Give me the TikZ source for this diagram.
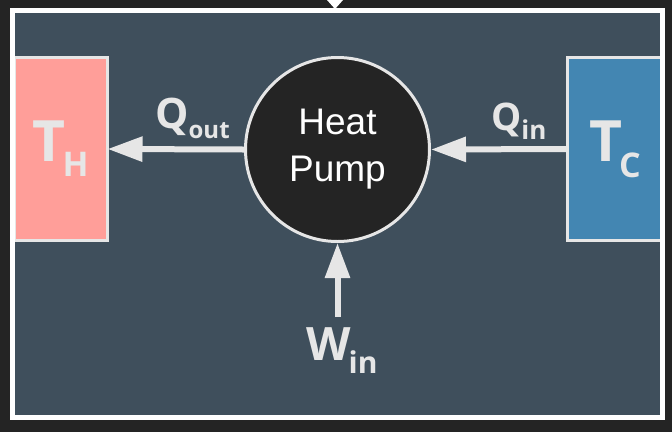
\documentclass[tikz,border=0pt]{standalone}
\usepackage{fontspec}
\setmainfont{Open Sans}
\newfontfamily\pumpfont{Liberation Sans}
\usepackage{xcolor}
\usetikzlibrary{arrows.meta, positioning}
\definecolor{framedark}{RGB}{36,36,36}
\definecolor{slate}{RGB}{63,79,92}
\definecolor{chalk}{RGB}{230,230,230}
\definecolor{hotred}{RGB}{255,158,153}
\definecolor{coldblue}{RGB}{67,134,178}
\newcommand{\lab}[6]{\fontsize{#1pt}{#1pt}\selectfont#2\kern#3pt\raisebox{-#4pt}{\fontsize{#5pt}{#5pt}\selectfont#6}}
\tikzset{
  reservoir/.style={rectangle, draw=chalk, line width=3pt, minimum height=183pt,
    text=chalk, font=\bfseries, inner sep=0pt, outer sep=0pt},
  hotbox/.style={reservoir, fill=hotred, minimum width=93.5pt},
  coldbox/.style={reservoir, fill=coldblue, minimum width=94.5pt},
  pump/.style={circle, draw=chalk, line width=3pt, fill=framedark, minimum size=184pt,
    inner sep=0pt, text=white, align=center,
    font=\pumpfont\fontsize{37pt}{47pt}\selectfont},
  flow/.style={-{Triangle[length=35pt, width=24pt]}, line width=6pt, color=chalk},
  flowlabel/.style={text=chalk, font=\bfseries, inner sep=0pt, anchor=base west},
}
\begin{document}
\begin{tikzpicture}[x=1pt, y=-1pt]
  \useasboundingbox (0,0) rectangle (672,432);
  % Background and frame
  \fill[framedark] (0,0) rectangle (672,432);
  \fill[slate] (12.5,10.5) rectangle (662.5,417.5);

  % Reservoirs and the pump
  \node[hotbox] (hot) at (60.75,149) {\lab{57}{T}{-3}{15}{34}{H}};
  \node[coldbox] (cold) at (615,149) {\lab{57}{T}{-3}{16}{34}{C}};
  \node[pump] (hp) at (337.5,149.5) {Heat\\Pump};

  % Work input
  \coordinate (wtail) at (337.5,317);
  \node[flowlabel] (win) at (306,360) {\lab{46}{W}{-2}{13}{30}{in}};

  % Heat flows
  \draw[flow] (hp.west) -- (hot.east);
  \draw[flow] (cold.west) -- (hp.east);
  \draw[flow] (wtail) -- (hp.south);
  \node[flowlabel] (qout) at (155,128) {\lab{42}{Q}{0}{10}{24}{out}};
  \node[flowlabel] (qin) at (491,130) {\lab{38}{Q}{0}{9}{26}{in}};

  % Frame on top
  \draw[white, line width=5pt] (12.5,10.5) rectangle (662.5,417.5);
  \fill[white] (327,0) -- (343,0) -- (335,9) -- cycle;
\end{tikzpicture}
\end{document}
